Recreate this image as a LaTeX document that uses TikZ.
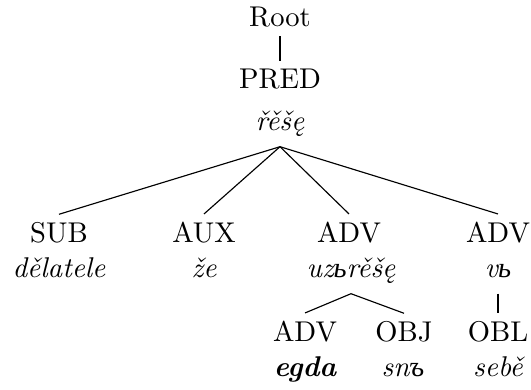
\documentclass[tikz,border=0pt]{standalone}
\usepackage{fontspec}
\newfontfamily\cyrfont{Liberation Serif}
\newcommand{\yer}{{\cyrfont\itshape ъ}}
\newcommand{\yerj}{{\cyrfont\itshape ь}}

\begin{document}
\begin{tikzpicture}[x=0.35pt,y=-0.35pt,
    lab/.style={anchor=base,inner sep=2.8pt},
    word/.style={anchor=base,inner sep=2.8pt,font=\itshape,text depth=0.25em}]
            \useasboundingbox (0,0) rectangle (531,390);
            \node[lab] (Root) at (280,27) {Root};
            \node[lab] (PRED) at (280,89) {PRED};
            \node[word] (PREDw) at (280,131) {řěšę};
            \node[lab] (SUB) at (59,243) {SUB};
            \node[word] (SUBw) at (59,278) {dělatele};
            \node[lab] (AUX) at (204,243) {AUX};
            \node[word] (AUXw) at (204,278) {že};
            \node[lab] (ADV_1) at (349,243) {ADV};
            \node[word] (ADV_1w) at (351,278) {uz\yerj rěšę};
            \node[lab] (ADV_2) at (498,243) {ADV};
            \node[word] (ADV_2w) at (498,278) {v\yerj};
            \node[lab] (ADV_3) at (305,342) {ADV};
            \node[word,font=\bfseries\itshape] (ADV_3w) at (305,377) {egda};
            \node[lab] (OBJ) at (404,342) {OBJ};
            \node[word] (OBJw) at (403,377) {sn\yer};
            \node[lab] (OBL) at (498,342) {OBL};
            \node[word] (OBLw) at (498,377) {sebě};
            \draw (Root.south)--(PRED.north);
            \draw (PREDw.south)--(SUB.north);
            \draw (PREDw.south)--(AUX.north);
            \draw (PREDw.south)--(ADV_1.north);
            \draw (PREDw.south)--(ADV_2.north);
            \draw (ADV_1w.south)--(ADV_3.north);
            \draw (ADV_1w.south)--(OBJ.north);
            \draw (ADV_2w.south)--(OBL.north);
    \end{tikzpicture}
\end{document}
